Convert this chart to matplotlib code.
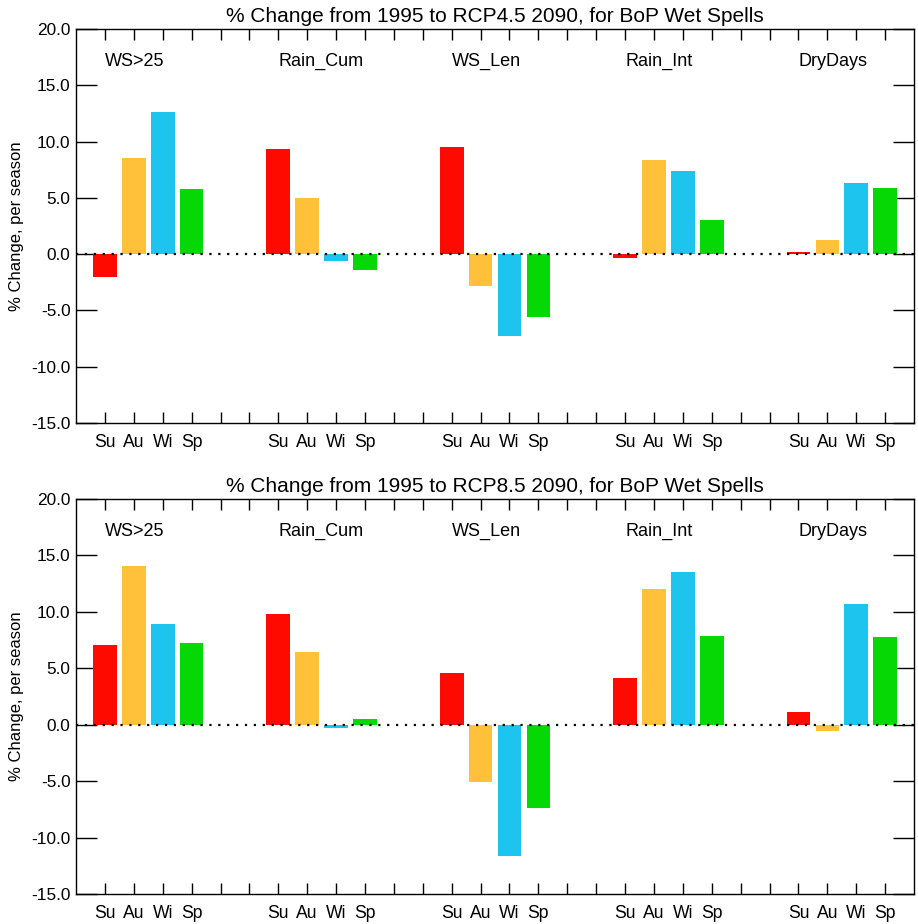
import numpy as np
import matplotlib
matplotlib.use("Agg")
import matplotlib.pyplot as plt

plt.rcParams['font.family'] = ['Liberation Sans', 'DejaVu Sans']

# 指标组与季节
groups = ["WS>25", "Rain_Cum", "WS_Len", "Rain_Int", "DryDays"]
seasons = ["Su", "Au", "Wi", "Sp"]
season_colors = ["#FF0A00", "#FFC03A", "#1CC4EE", "#06D806"]

titles = ["% Change from 1995 to RCP4.5 2090, for BoP Wet Spells",
          "% Change from 1995 to RCP8.5 2090, for BoP Wet Spells"]

# 每组依次为 Su, Au, Wi, Sp
rcp45 = [[-2.0, 8.5, 12.6, 5.8],
         [9.3, 5.0, -0.6, -1.4],
         [9.5, -2.8, -7.3, -5.6],
         [-0.3, 8.4, 7.4, 3.0],
         [0.2, 1.3, 6.3, 5.9]]
rcp85 = [[7.1, 14.1, 8.9, 7.2],
         [9.8, 6.4, -0.3, 0.5],
         [4.6, -5.1, -11.6, -7.4],
         [4.1, 12.0, 13.5, 7.9],
         [1.1, -0.6, 10.7, 7.8]]

y_ticks = [-15, -10, -5, 0, 5, 10, 15, 20]

fig = plt.figure(figsize=(9.18, 9.24), dpi=100)
ax_top = fig.add_axes([0.0828, 0.5422, 0.9129, 0.4264])
ax_bot = fig.add_axes([0.0828, 0.0325, 0.9129, 0.4275])

group_start = [1 + 6 * g for g in range(len(groups))]

for ax, data, title in zip([ax_top, ax_bot], [rcp45, rcp85], titles):
    xpos = []
    xlab = []
    for g, vals in enumerate(data):
        x = np.arange(4) + group_start[g]
        ax.bar(x, vals, width=0.82, color=season_colors, zorder=2)
        xpos += list(x)
        xlab += seasons
        ax.text(group_start[g], 17.1, groups[g], ha='left', va='center',
                fontsize=13)
    ax.axhline(0, color='black', linestyle=(0, (1, 3)), linewidth=1.6, zorder=3)

    ax.set_xlim(0, 29)
    ax.set_ylim(-15, 20)
    ax.set_xticks(xpos)
    ax.set_xticklabels(xlab, fontsize=12.7)
    ax.set_xticks(np.arange(1, 29), minor=True)
    ax.set_yticks(y_ticks)
    ax.set_yticklabels(["%.1f" % v for v in y_ticks], fontsize=12.4)
    ax.tick_params(axis='x', which='both', direction='in', length=8, width=1,
                   top=True, pad=8)
    ax.tick_params(axis='y', direction='in', length=15, width=1, right=True,
                   pad=4)
    for s in ax.spines.values():
        s.set_linewidth(1)
    ax.set_ylabel("% Change, per season", fontsize=12, labelpad=5)
    ax.set_title(title, fontsize=15, pad=5)

fig.savefig("out.png", dpi=100)
